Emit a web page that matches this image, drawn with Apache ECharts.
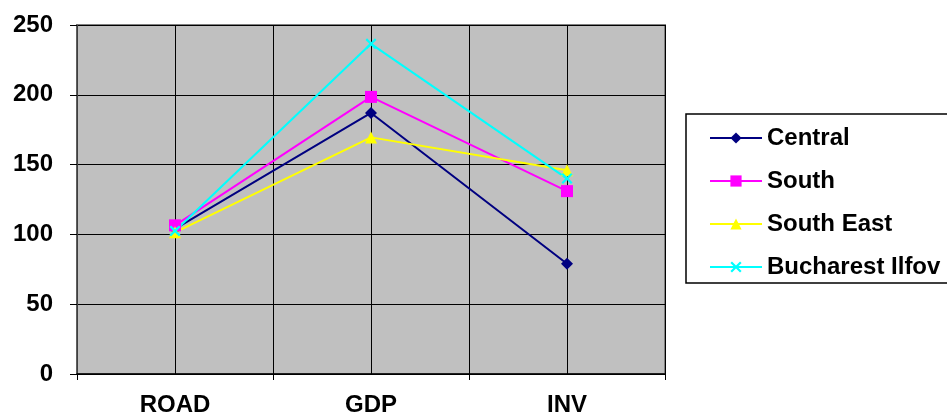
<!DOCTYPE html>
<html>
<head>
<meta charset="utf-8">
<script src="https://cdn.jsdelivr.net/npm/echarts@6/dist/echarts.min.js"></script>
<style>html,body{margin:0;padding:0;background:#fff}#c{width:947px;height:417px}</style>
</head>
<body>
<div id="c"></div>
<script>
var categories = ['ROAD', 'GDP', 'INV'];
var central = [104, 187, 79];
var south = [106.5, 198.5, 131];
var southEast = [101.5, 169.5, 146];
var bucharest = [102.5, 236.5, 140];
var seriesNames = ['Central', 'South', 'South East', 'Bucharest Ilfov'];
var yTicks = {min: 0, max: 250, interval: 50};

var FONT = 'Liberation Sans, Arial, sans-serif';
var xPath = 'path://M0,1.4L1.4,0L5,3.6L8.6,0L10,1.4L6.4,5L10,8.6L8.6,10L5,6.4L1.4,10L0,8.6L3.6,5Z';

var chart = echarts.init(document.getElementById('c'));
function mk(name, data, color, symbol, size) {
  return {
    name: name, type: 'line', data: data, symbol: symbol, symbolSize: size,
    lineStyle: {color: color, width: 2}, itemStyle: {color: color},
    showAllSymbol: true, animation: false
  };
}
chart.setOption({
  animation: false,
  grid: {left: 77, top: 25, right: 282, bottom: 43, show: true,
         backgroundColor: '#c0c0c0', borderColor: '#808080', borderWidth: 2},
  graphic: [{type: 'rect', shape: {x: 686, y: 114, width: 300, height: 169},
             style: {fill: '#fff', stroke: '#000', lineWidth: 1.5}, z: 1}],
  legend: {
    orient: 'vertical', left: 704, top: 121, itemWidth: 52, itemHeight: 14, itemGap: 19,
    textStyle: {fontFamily: FONT, fontWeight: 'bold', fontSize: 24, color: '#000', lineHeight: 24},
    data: seriesNames, z: 5
  },
  xAxis: [{
    type: 'category', data: categories, boundaryGap: true,
    axisLine: {lineStyle: {color: '#000', width: 1.5}},
    axisTick: {show: true, length: 6, lineStyle: {color: '#000'}},
    axisLabel: {fontFamily: FONT, fontWeight: 'bold', fontSize: 24, color: '#000', margin: 19},
    splitLine: {show: false}, z: 3
  }, {
    type: 'value', min: 0, max: 6, interval: 1, position: 'bottom',
    axisLine: {show: false}, axisTick: {show: false}, axisLabel: {show: false},
    splitLine: {show: true, lineStyle: {color: '#000', width: 1}}
  }],
  yAxis: {
    type: 'value', min: yTicks.min, max: yTicks.max, interval: yTicks.interval,
    axisLine: {show: true, lineStyle: {color: '#555', width: 1.5}},
    axisTick: {show: true, length: 7, lineStyle: {color: '#000'}},
    axisLabel: {fontFamily: FONT, fontWeight: 'bold', fontSize: 24, color: '#000', margin: 24},
    splitLine: {show: true, lineStyle: {color: '#000', width: 1}}
  },
  series: [
    mk(seriesNames[0], central, '#000080', 'diamond', 12),
    mk(seriesNames[1], south, '#ff00ff', 'rect', 12),
    mk(seriesNames[2], southEast, '#ffff00', 'triangle', 12),
    mk(seriesNames[3], bucharest, '#00ffff', xPath, 11)
  ]
});
</script>
</body>
</html>
